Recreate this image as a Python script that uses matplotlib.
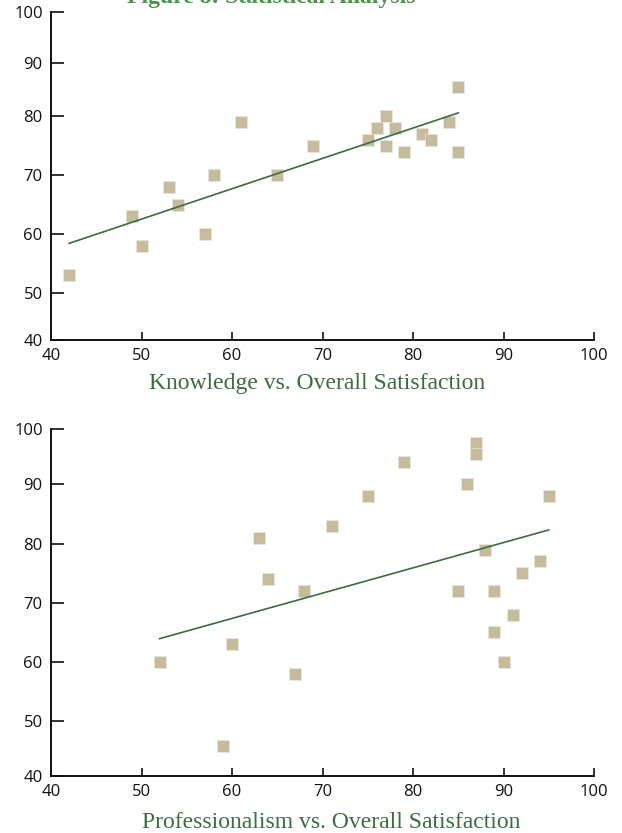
import numpy as np
import matplotlib
matplotlib.use("Agg")
import matplotlib.pyplot as plt

# Knowledge vs. Overall Satisfaction
know_x = [42, 49, 50, 53, 54, 57, 58, 61, 65, 69, 75, 76, 77, 77, 78, 79, 81, 82, 84, 85, 85]
know_y = [53, 63, 58, 68, 65, 60, 70, 79, 70, 75, 76, 78, 80, 75, 78, 74, 77, 76, 79, 85.5, 74]

# Professionalism vs. Overall Satisfaction
prof_x = [52, 59, 60, 63, 64, 67, 68, 71, 75, 79, 86, 87, 87, 85, 88, 89, 89, 90, 91, 92, 94, 95]
prof_y = [60, 45.5, 63, 81, 74, 58, 72, 83, 88, 94, 90, 97.5, 95.5, 72, 79, 72, 65, 60, 68, 75, 77, 88]

ticks = [40, 50, 60, 70, 80, 90, 100]
title = "Figure 8: Statistical Analysis"
sub1 = "Knowledge vs. Overall Satisfaction"
sub2 = "Professionalism vs. Overall Satisfaction"

MARK = "#c5bb9d"
LINE = "#3b6b40"
SUBC = "#3d6b43"
TITC = "#4a944a"

fig = plt.figure(figsize=(6.22, 8.33), dpi=100)
W, H = 622, 833

def make_ax(left, top, right, bottom):
    return fig.add_axes([left / W, 1 - bottom / H, (right - left) / W, (bottom - top) / H])

ax1 = make_ax(51, 12, 594, 339.5)
ax2 = make_ax(51, 429.3, 594, 776)

# the original chart's vertical gridding is slightly uneven: reproduce via a
# piecewise-linear axis scale (pixel rows of the tick marks, top to bottom)
tick_rows1 = [339.5, 293, 234, 175, 116.3, 62.7, 12]
tick_rows2 = [776, 721, 662, 602.7, 543.7, 484.3, 429.3]

def uneven_scale(rows):
    rows = np.asarray(rows, float)
    fr = (rows[0] - rows) / (rows[0] - rows[-1])
    tv = np.asarray(ticks, float)
    fwd = lambda v: np.interp(v, tv, fr, left=np.nan, right=np.nan) if False else np.interp(v, tv, fr)
    inv = lambda f: np.interp(f, fr, tv)
    return fwd, inv

for ax, xs, ys, sub, subx, suby, rows in [
        (ax1, know_x, know_y, sub1, 317, 383, tick_rows1),
        (ax2, prof_x, prof_y, sub2, 331, 822, tick_rows2)]:
    ax.set_yscale("function", functions=uneven_scale(rows))
    ax.set_xlim(40, 100)
    ax.set_ylim(40, 100)
    ax.set_xticks(ticks)
    ax.set_yticks(ticks)
    ax.set_xticklabels([str(t) for t in ticks])
    ax.set_yticklabels([str(t) for t in ticks])
    ax.minorticks_off()
    for s in ["top", "right"]:
        ax.spines[s].set_visible(False)
    for s in ["left", "bottom"]:
        ax.spines[s].set_linewidth(1.4)
        ax.spines[s].set_color("#111111")
    ax.tick_params(axis="y", direction="in", length=9.5, width=1.2, pad=6,
                   labelsize=12, colors="#111111")
    ax.tick_params(axis="x", direction="in", length=6, width=1.2, pad=6,
                   labelsize=12, colors="#111111")
    for lab in ax.get_xticklabels() + ax.get_yticklabels():
        lab.set_fontfamily("Open Sans")
    ax.plot(xs, ys, linestyle="none", marker="s", ms=8, color=MARK,
            mec="#ece7da", mew=0.5, zorder=3, clip_on=False)
    k, b = np.polyfit(xs, ys, 1)
    xx = np.array([min(xs), max(xs)])
    ax.plot(xx, k * xx + b, color=LINE, lw=1.2, zorder=4)
    fig.text(subx / W, 1 - suby / H, sub, ha="center", va="center",
             fontsize=17, color=SUBC, family="Liberation Serif")

fig.text(271 / W, 1 - 3 / H, title, ha="center", va="baseline",
         fontsize=17, fontweight="bold", color=TITC, family="Liberation Serif")

fig.savefig("out.png", dpi=100)
